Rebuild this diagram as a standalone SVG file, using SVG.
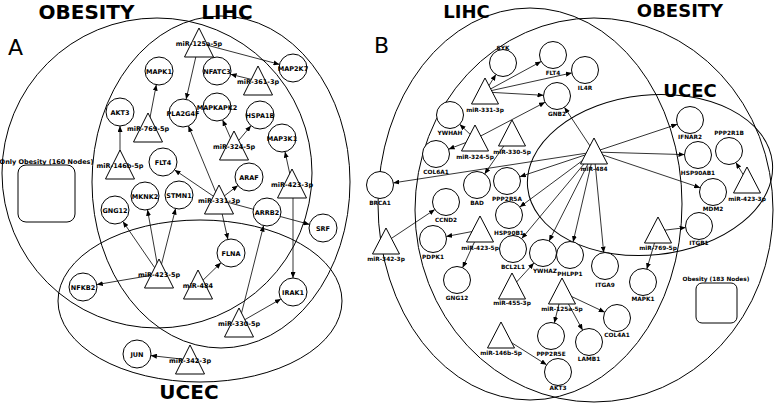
<svg xmlns="http://www.w3.org/2000/svg" xmlns:xlink="http://www.w3.org/1999/xlink" width="777" height="404" viewBox="0 0 777 404">
<style>
.set{fill:none;stroke:#000;stroke-width:1}
.e{stroke:#000;stroke-width:0.8;fill:none;marker-end:url(#ah)}
.c{fill:#fff;stroke:#000;stroke-width:1}
.la{font-family:"DejaVu Sans",sans-serif;font-size:6.5px;font-weight:bold;text-anchor:middle;fill:#000}
.lb{font-family:"DejaVu Sans",sans-serif;font-size:5.8px;font-weight:bold;text-anchor:middle;fill:#000}
.ttl{font-family:"DejaVu Sans",sans-serif;font-weight:bold;text-anchor:middle;fill:#000}
.pl{font-family:"DejaVu Sans",sans-serif;font-size:22px;fill:#000}
.box{fill:#fff;stroke:#000;stroke-width:1}
</style>
<defs>
<marker id="ah" markerUnits="userSpaceOnUse" markerWidth="6" markerHeight="5" refX="6" refY="2.5" orient="auto"><path d="M0,0L6,2.5L0,5z" fill="#000"/></marker>
<polygon id="triA" points="0,-15 14.5,14 -14.5,14" fill="#fff" stroke="#000" stroke-width="1"/>
<polygon id="triB" points="0,-14 13.5,12 -13.5,12" fill="#fff" stroke="#000" stroke-width="1"/>
</defs>
<rect width="777" height="404" fill="#fff"/>

<!-- Panel A sets -->
<g id="A-sets">
<ellipse class="set" cx="157" cy="173" rx="155" ry="155"/>
<ellipse class="set" cx="221" cy="182" rx="129" ry="166"/>
<ellipse class="set" cx="200" cy="301" rx="142" ry="81"/>
</g>
<text class="pl" x="8" y="55">A</text>
<text class="ttl" x="86.5" y="19" font-size="20">OBESITY</text>
<text class="ttl" x="227" y="19" font-size="20">LIHC</text>
<text class="ttl" x="189" y="399" font-size="20">UCEC</text>
<g id="A-only-obesity">
<text class="la" x="46.5" y="163.5">Only Obesity (160 Nodes)</text>
<rect class="box" x="18" y="165" width="57" height="57" rx="8"/>
</g>

<!-- Panel B sets -->
<g id="B-sets">
<ellipse class="set" cx="530" cy="204" rx="152" ry="196"/>
<ellipse class="set" cx="594" cy="210" rx="179" ry="192"/>
<ellipse class="set" cx="650" cy="175" rx="123" ry="80" transform="rotate(-6 650 175)"/>
</g>
<text class="pl" x="374" y="53">B</text>
<text class="ttl" x="466.5" y="18" font-size="18">LIHC</text>
<text class="ttl" x="680" y="17" font-size="18">OBESITY</text>
<text class="ttl" x="690" y="97" font-size="18">UCEC</text>
<g id="B-obesity-only">
<text class="lb" x="716" y="280.5">Obesity (183 Nodes)</text>
<rect class="box" x="696" y="283" width="41" height="40" rx="6"/>
</g>

<g id="edges">
<line class="e" x1="199" y1="43" x2="279.5" y2="64.4"/>
<line class="e" x1="199" y1="43" x2="186.1" y2="99.3"/>
<line class="e" x1="258" y1="81" x2="230.6" y2="74.3"/>
<line class="e" x1="148" y1="128" x2="156.3" y2="84.7"/>
<line class="e" x1="120" y1="165" x2="120" y2="126"/>
<line class="e" x1="234" y1="146" x2="222.6" y2="119.9"/>
<line class="e" x1="234" y1="146" x2="251" y2="125.7"/>
<line class="e" x1="219" y1="200" x2="188.4" y2="125.9"/>
<line class="e" x1="219" y1="200" x2="174.6" y2="169.9"/>
<line class="e" x1="219" y1="200" x2="237.9" y2="185.5"/>
<line class="e" x1="219" y1="200" x2="309.5" y2="224.4"/>
<line class="e" x1="219" y1="200" x2="227.9" y2="239.3"/>
<line class="e" x1="159" y1="274" x2="122.9" y2="221.5"/>
<line class="e" x1="159" y1="274" x2="147.5" y2="209.8"/>
<line class="e" x1="159" y1="274" x2="175.6" y2="208.6"/>
<line class="e" x1="159" y1="274" x2="96.8" y2="284.6"/>
<line class="e" x1="198" y1="285" x2="221" y2="262.7"/>
<line class="e" x1="239" y1="323" x2="280.9" y2="299"/>
<line class="e" x1="239" y1="323" x2="263.6" y2="225.6"/>
<line class="e" x1="292" y1="184" x2="285" y2="151.7"/>
<line class="e" x1="293" y1="184" x2="293" y2="278"/>
<line class="e" x1="190" y1="360" x2="150.9" y2="355.6"/>

<line class="e" x1="485" y1="92" x2="495.9" y2="74.5"/>
<line class="e" x1="485" y1="92" x2="541.1" y2="61.5"/>
<line class="e" x1="485" y1="92" x2="571.8" y2="72.9"/>
<line class="e" x1="485" y1="92" x2="543.5" y2="95.3"/>
<line class="e" x1="475" y1="139" x2="459.7" y2="124.3"/>
<line class="e" x1="475" y1="139" x2="545" y2="102.3"/>
<line class="e" x1="475" y1="139" x2="448.6" y2="149.2"/>
<line class="e" x1="512" y1="134" x2="484.6" y2="173.9"/>
<line class="e" x1="594" y1="152" x2="564.4" y2="107.3"/>
<line class="e" x1="594" y1="152" x2="677.2" y2="124.3"/>
<line class="e" x1="594" y1="152" x2="684.5" y2="154.6"/>
<line class="e" x1="594" y1="152" x2="700.2" y2="187.7"/>
<line class="e" x1="594" y1="152" x2="393.3" y2="182.9"/>
<line class="e" x1="594" y1="152" x2="519.8" y2="176.7"/>
<line class="e" x1="594" y1="152" x2="519.8" y2="207"/>
<line class="e" x1="594" y1="152" x2="521.7" y2="238.6"/>
<line class="e" x1="594" y1="152" x2="549.1" y2="240.9"/>
<line class="e" x1="594" y1="152" x2="573.1" y2="241.9"/>
<line class="e" x1="594" y1="152" x2="603.7" y2="252.6"/>
<line class="e" x1="480" y1="230" x2="446.2" y2="236.5"/>
<line class="e" x1="480" y1="230" x2="462.6" y2="267.7"/>
<line class="e" x1="386" y1="242" x2="434.8" y2="209.5"/>
<line class="e" x1="512" y1="287" x2="533.9" y2="263"/>
<line class="e" x1="562" y1="292" x2="554.3" y2="322.9"/>
<line class="e" x1="562" y1="292" x2="604.8" y2="312.2"/>
<line class="e" x1="562" y1="292" x2="582.6" y2="330.1"/>
<line class="e" x1="501" y1="336" x2="546.6" y2="364.8"/>
<line class="e" x1="658" y1="231" x2="685.6" y2="227.6"/>
<line class="e" x1="658" y1="231" x2="646.8" y2="269.1"/>
<line class="e" x1="747" y1="181" x2="735.9" y2="162.6"/>
</g>

<!-- Panel A nodes -->
<g id="A-MAPK1"><circle class="c" cx="159" cy="71" r="14"/><text class="la" x="159" y="73.5">MAPK1</text></g>
<g id="A-AKT3"><circle class="c" cx="120" cy="112" r="14"/><text class="la" x="120" y="114.5">AKT3</text></g>
<g id="A-PLA2G4F"><circle class="c" cx="183" cy="113" r="14"/><text class="la" x="183" y="115.5">PLA2G4F</text></g>
<g id="A-NFATC3"><circle class="c" cx="217" cy="71" r="14"/><text class="la" x="217" y="73.5">NFATC3</text></g>
<g id="A-MAP2K7"><circle class="c" cx="293" cy="68" r="14"/><text class="la" x="293" y="70.5">MAP2K7</text></g>
<g id="A-MAPKAPK2"><circle class="c" cx="217" cy="107" r="14"/><text class="la" x="217" y="109.5">MAPKAPK2</text></g>
<g id="A-HSPA1B"><circle class="c" cx="260" cy="115" r="14"/><text class="la" x="260" y="117.5">HSPA1B</text></g>
<g id="A-MAP3K1"><circle class="c" cx="282" cy="138" r="14"/><text class="la" x="282" y="140.5">MAP3K1</text></g>
<g id="A-FLT4"><circle class="c" cx="163" cy="162" r="14"/><text class="la" x="163" y="164.5">FLT4</text></g>
<g id="A-MKNK2"><circle class="c" cx="145" cy="196" r="14"/><text class="la" x="145" y="198.5">MKNK2</text></g>
<g id="A-STMN1"><circle class="c" cx="179" cy="195" r="14"/><text class="la" x="179" y="197.5">STMN1</text></g>
<g id="A-GNG12"><circle class="c" cx="115" cy="210" r="14"/><text class="la" x="115" y="212.5">GNG12</text></g>
<g id="A-ARAF"><circle class="c" cx="249" cy="177" r="14"/><text class="la" x="249" y="179.5">ARAF</text></g>
<g id="A-ARRB2"><circle class="c" cx="267" cy="212" r="14"/><text class="la" x="267" y="214.5">ARRB2</text></g>
<g id="A-SRF"><circle class="c" cx="323" cy="228" r="14"/><text class="la" x="323" y="230.5">SRF</text></g>
<g id="A-FLNA"><circle class="c" cx="231" cy="253" r="14"/><text class="la" x="231" y="255.5">FLNA</text></g>
<g id="A-NFKB2"><circle class="c" cx="83" cy="287" r="14"/><text class="la" x="83" y="289.5">NFKB2</text></g>
<g id="A-JUN"><circle class="c" cx="137" cy="354" r="14"/><text class="la" x="137" y="356.5">JUN</text></g>
<g id="A-IRAK1"><circle class="c" cx="293" cy="292" r="14"/><text class="la" x="293" y="294.5">IRAK1</text></g>

<g id="A-miR-125a-5p"><use xlink:href="#triA" x="199" y="43"/><text class="la" x="199" y="45.5">miR-125a-5p</text></g>
<g id="A-miR-361-3p"><use xlink:href="#triA" x="258" y="81"/><text class="la" x="258" y="83.5">miR-361-3p</text></g>
<g id="A-miR-769-5p"><use xlink:href="#triA" x="148" y="128"/><text class="la" x="148" y="130.5">miR-769-5p</text></g>
<g id="A-miR-146b-5p"><use xlink:href="#triA" x="120" y="165"/><text class="la" x="120" y="167.5">miR-146b-5p</text></g>
<g id="A-miR-324-5p"><use xlink:href="#triA" x="234" y="146"/><text class="la" x="234" y="148.5">miR-324-5p</text></g>
<g id="A-miR-331-3p"><use xlink:href="#triA" x="219" y="200"/><text class="la" x="219" y="202.5">miR-331-3p</text></g>
<g id="A-miR-423-3p"><use xlink:href="#triA" x="292" y="184"/><text class="la" x="292" y="186.5">miR-423-3p</text></g>
<g id="A-miR-423-5p"><use xlink:href="#triA" x="159" y="274"/><text class="la" x="159" y="276.5">miR-423-5p</text></g>
<g id="A-miR-484"><use xlink:href="#triA" x="198" y="285"/><text class="la" x="198" y="287.5">miR-484</text></g>
<g id="A-miR-330-5p"><use xlink:href="#triA" x="239" y="323"/><text class="la" x="239" y="325.5">miR-330-5p</text></g>
<g id="A-miR-342-3p"><use xlink:href="#triA" x="190" y="360"/><text class="la" x="190" y="362.5">miR-342-3p</text></g>

<!-- Panel B nodes -->
<g id="B-SYK"><circle class="c" cx="503" cy="63" r="13.5"/><text class="lb" x="503" y="50">SYK</text></g>
<g id="B-FLT4"><circle class="c" cx="553" cy="55" r="13.5"/><text class="lb" x="553" y="75">FLT4</text></g>
<g id="B-IL4R"><circle class="c" cx="585" cy="70" r="13.5"/><text class="lb" x="585" y="90">IL4R</text></g>
<g id="B-GNB2"><circle class="c" cx="557" cy="96" r="13.5"/><text class="lb" x="557" y="116">GNB2</text></g>
<g id="B-YWHAH"><circle class="c" cx="450" cy="115" r="13.5"/><text class="lb" x="450" y="135">YWHAH</text></g>
<g id="B-COL6A1"><circle class="c" cx="436" cy="154" r="13.5"/><text class="lb" x="436" y="174">COL6A1</text></g>
<g id="B-BRCA1"><circle class="c" cx="380" cy="185" r="13.5"/><text class="lb" x="380" y="205">BRCA1</text></g>
<g id="B-BAD"><circle class="c" cx="477" cy="185" r="13.5"/><text class="lb" x="477" y="205">BAD</text></g>
<g id="B-PPP2R5A"><circle class="c" cx="507" cy="181" r="13.5"/><text class="lb" x="507" y="201">PPP2R5A</text></g>
<g id="B-CCND2"><circle class="c" cx="446" cy="202" r="13.5"/><text class="lb" x="446" y="222">CCND2</text></g>
<g id="B-HSP90B1"><circle class="c" cx="509" cy="215" r="13.5"/><text class="lb" x="509" y="235">HSP90B1</text></g>
<g id="B-PDPK1"><circle class="c" cx="433" cy="239" r="13.5"/><text class="lb" x="433" y="259">PDPK1</text></g>
<g id="B-BCL2L1"><circle class="c" cx="513" cy="249" r="13.5"/><text class="lb" x="513" y="269">BCL2L1</text></g>
<g id="B-YWHAZ"><circle class="c" cx="543" cy="253" r="13.5"/><text class="lb" x="545" y="272.5">YWHAZ</text></g>
<g id="B-PHLPP1"><circle class="c" cx="570" cy="255" r="13.5"/><text class="lb" x="570" y="276">PHLPP1</text></g>
<g id="B-ITGA9"><circle class="c" cx="605" cy="266" r="13.5"/><text class="lb" x="605" y="287">ITGA9</text></g>
<g id="B-MAPK1"><circle class="c" cx="643" cy="282" r="13.5"/><text class="lb" x="643" y="301">MAPK1</text></g>
<g id="B-ITGB1"><circle class="c" cx="699" cy="226" r="13.5"/><text class="lb" x="699" y="245">ITGB1</text></g>
<g id="B-MDM2"><circle class="c" cx="713" cy="192" r="13.5"/><text class="lb" x="713" y="211">MDM2</text></g>
<g id="B-HSP90AB1"><circle class="c" cx="698" cy="155" r="13.5"/><text class="lb" x="698" y="175">HSP90AB1</text></g>
<g id="B-IFNAR2"><circle class="c" cx="690" cy="120" r="13.5"/><text class="lb" x="690" y="139">IFNAR2</text></g>
<g id="B-PPP2R1B"><circle class="c" cx="729" cy="151" r="13.5"/><text class="lb" x="729" y="135">PPP2R1B</text></g>
<g id="B-GNG12"><circle class="c" cx="457" cy="280" r="13.5"/><text class="lb" x="457" y="300">GNG12</text></g>
<g id="B-PPP2R5E"><circle class="c" cx="551" cy="336" r="13.5"/><text class="lb" x="551" y="356">PPP2R5E</text></g>
<g id="B-AKT3"><circle class="c" cx="558" cy="372" r="13.5"/><text class="lb" x="558" y="390">AKT3</text></g>
<g id="B-COL4A1"><circle class="c" cx="617" cy="318" r="13.5"/><text class="lb" x="617" y="337">COL4A1</text></g>
<g id="B-LAMB1"><circle class="c" cx="589" cy="342" r="13.5"/><text class="lb" x="589" y="361">LAMB1</text></g>

<g id="B-miR-331-3p"><use xlink:href="#triB" x="485" y="92"/><text class="lb" x="485" y="111.5">miR-331-3p</text></g>
<g id="B-miR-324-5p"><use xlink:href="#triB" x="475" y="139"/><text class="lb" x="475" y="158.5">miR-324-5p</text></g>
<g id="B-miR-330-5p"><use xlink:href="#triB" x="512" y="134"/><text class="lb" x="512" y="153.5">miR-330-5p</text></g>
<g id="B-miR-484"><use xlink:href="#triB" x="594" y="152"/><text class="lb" x="594" y="170.5">miR-484</text></g>
<g id="B-miR-342-3p"><use xlink:href="#triB" x="386" y="242"/><text class="lb" x="386" y="260.5">miR-342-3p</text></g>
<g id="B-miR-423-5p"><use xlink:href="#triB" x="480" y="230"/><text class="lb" x="480" y="249.5">miR-423-5p</text></g>
<g id="B-miR-769-5p"><use xlink:href="#triB" x="658" y="231"/><text class="lb" x="658" y="249.5">miR-769-5p</text></g>
<g id="B-miR-423-3p"><use xlink:href="#triB" x="747" y="181"/><text class="lb" x="747" y="200.5">miR-423-3p</text></g>
<g id="B-miR-455-3p"><use xlink:href="#triB" x="512" y="287"/><text class="lb" x="512" y="304.5">miR-455-3p</text></g>
<g id="B-miR-125a-5p"><use xlink:href="#triB" x="562" y="292"/><text class="lb" x="562" y="310.5">miR-125a-5p</text></g>
<g id="B-miR-146b-5p"><use xlink:href="#triB" x="501" y="336"/><text class="lb" x="501" y="354.5">miR-146b-5p</text></g>
</svg>
